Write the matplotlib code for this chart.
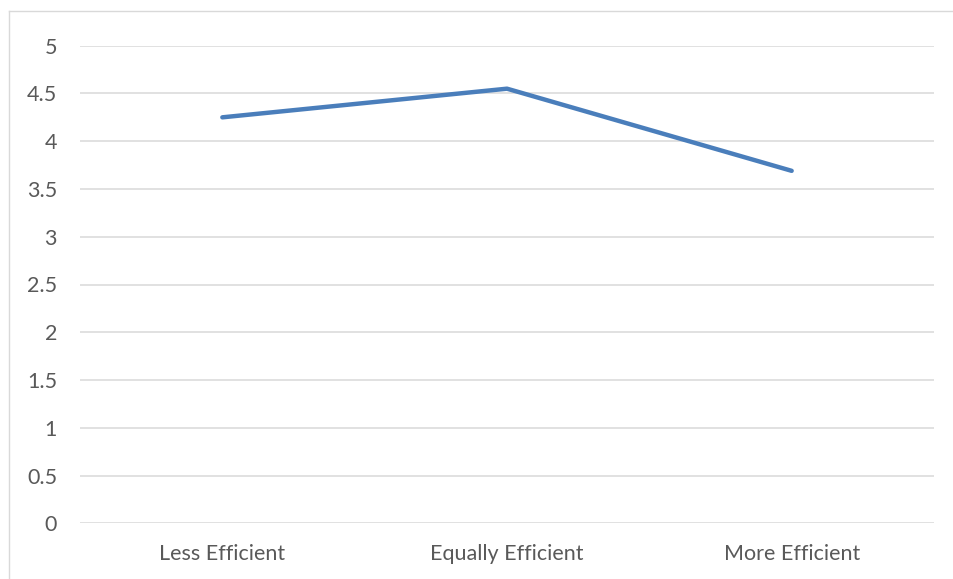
import matplotlib
matplotlib.use("Agg")
import matplotlib.pyplot as plt
import numpy as np

categories = ["Less Efficient", "Equally Efficient", "More Efficient"]
values = [4.25, 4.55, 3.69]
y_ticks = [0, 0.5, 1, 1.5, 2, 2.5, 3, 3.5, 4, 4.5, 5]
y_labels = ["0", "0.5", "1", "1.5", "2", "2.5", "3", "3.5", "4", "4.5", "5"]

plt.rcParams["font.family"] = ["Lato", "DejaVu Sans"]

W, H = 954, 579
fig = plt.figure(figsize=(W / 100, H / 100), dpi=100)
fig.patch.set_facecolor("white")

# chart area outline (top and left edges visible)
fig.add_artist(plt.Line2D([9.5 / W, 1.0], [1 - 11 / H, 1 - 11 / H],
                          transform=fig.transFigure, color="#D9D9D9", lw=1.0))
fig.add_artist(plt.Line2D([9.5 / W, 9.5 / W], [0, 1 - 11 / H],
                          transform=fig.transFigure, color="#D9D9D9", lw=1.0))

left, right = 80, 934
top, bottom = 45.7, 523.3
ax = fig.add_axes([left / W, 1 - bottom / H, (right - left) / W, (bottom - top) / H])
ax.set_facecolor("none")

x = np.arange(len(categories))
ax.plot(x, values, color="#4A7EBB", lw=3.2, solid_capstyle="round",
        solid_joinstyle="round", zorder=3)

ax.set_xlim(-0.5, len(categories) - 0.5)
ax.set_ylim(0, 5)
ax.set_yticks(y_ticks)
ax.set_yticklabels(y_labels)
ax.set_xticks(x)
ax.set_xticklabels(categories)

for yv in y_ticks:
    ax.axhline(yv, color="#D9D9D9", lw=1.1, zorder=1)

for s in ax.spines.values():
    s.set_visible(False)
ax.tick_params(axis="both", length=0, colors="#595959", labelsize=15.5)
ax.tick_params(axis="y", pad=16.5)
ax.tick_params(axis="x", pad=15)

fig.savefig("out.png", dpi=100, facecolor="white")
